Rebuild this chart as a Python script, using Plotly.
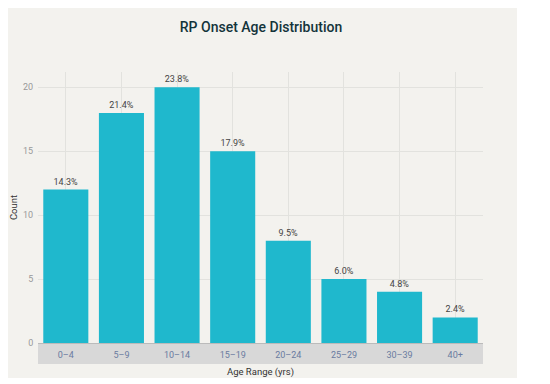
import plotly.graph_objects as go

categories = ["0–4", "5–9", "10–14", "15–19", "20–24", "25–29", "30–39", "40+"]
counts = [12, 18, 20, 15, 8, 5, 4, 2]
pct_labels = ["14.3%", "21.4%", "23.8%", "17.9%", "9.5%", "6.0%", "4.8%", "2.4%"]

W, H = 550, 384
OFF = 8  # page body margin offset
L, R, T, B = 38 - OFF, W - (483 - OFF), 72 - OFF, H - (343 - OFF)
plot_w = W - L - R
plot_h = H - T - B
FONT = "Roboto"

fig = go.Figure()
fig.add_trace(go.Bar(
    x=categories, y=counts, text=pct_labels, textposition="outside",
    textfont=dict(size=9, color="#444444", family=FONT),
    marker=dict(color="#1FB8CD", line=dict(width=0)),
    cliponaxis=False,
))

# panel background (beige) in pixel-based paper coords
px0, py0, px1, py1 = 6 - OFF, 5 - OFF, 517 - OFF, 378 - OFF
fig.add_shape(type="rect", xref="paper", yref="paper", layer="below",
              x0=(px0 - L) / plot_w, x1=(px1 - L) / plot_w,
              y0=(H - B - py1) / plot_h, y1=(H - B - py0) / plot_h,
              fillcolor="#F3F2EE", line=dict(width=0))
# gray tick label band
fig.add_shape(type="rect", xref="paper", yref="paper", layer="below",
              x0=0, x1=1, y0=-21 / plot_h, y1=0,
              fillcolor="#D8D8D8", line=dict(width=0))

fig.update_layout(
    width=W, height=H,
    margin=dict(l=L, r=R, t=T, b=B, autoexpand=False),
    paper_bgcolor="white", plot_bgcolor="rgba(0,0,0,0)",
    bargap=0.19,
    showlegend=False,
    font=dict(family=FONT, color="#333333"),
    title=dict(text="RP Onset Age Distribution", x=(261 - OFF) / W, xanchor="center",
               y=1 - (27 - OFF) / H, yanchor="middle",
               font=dict(size=14, color="#13343B", family=FONT, weight=500)),
    xaxis=dict(
        automargin=False,
        showgrid=True, gridcolor="#E2E2DE", gridwidth=1,
        tickfont=dict(size=9, color="#6A7BA0"),
        ticks="outside", ticklen=3, tickcolor="rgba(0,0,0,0)",
        title=dict(text="Age Range (yrs)", font=dict(size=9.5, color="#333333"), standoff=9),
        showline=False,
    ),
    yaxis=dict(
        automargin=False,
        range=[0, 21.2], tickvals=[0, 5, 10, 15, 20],
        showgrid=True, gridcolor="#E2E2DE", gridwidth=1,
        zeroline=True, zerolinecolor="#BBBBBB", zerolinewidth=1,
        tickfont=dict(size=9, color="#999999"),
        ticks="outside", ticklen=2, tickcolor="rgba(0,0,0,0)",
        title=dict(text="Count", font=dict(size=9.5, color="#333333"), standoff=8),
    ),
)

fig.write_html("out.html")
